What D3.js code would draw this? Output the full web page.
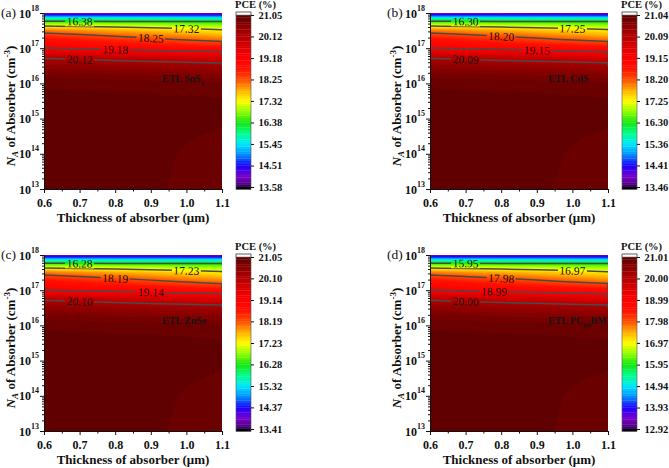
<!DOCTYPE html>
<html><head><meta charset="utf-8">
<script src="https://cdn.jsdelivr.net/npm/d3@7"></script>
<style>
body{margin:0;background:#fff;}
svg{display:block;}
text{font-family:"Liberation Serif","Times New Roman",serif;}
</style>
</head><body>
<svg id="chart" width="669" height="468"></svg>
<script>
// ---------------- DATA ----------------
const thickness = [0.6, 0.7, 0.8, 0.9, 1.0, 1.1];           // µm (columns)
const logNA = [13, 14, 14.5, 15, 15.5, 16, 16.25, 16.5, 16.75, 17, 17.25, 17.5, 17.625, 17.75, 17.8, 17.85, 17.9, 17.95, 18]; // log10(NA) rows

// PCE (%) grids: one row per logNA value, one column per thickness
const pceSnS2 = [
  21.05, 21.05, 21.03, 20.98, 20.90, 20.88,
  21.05, 21.05, 21.03, 20.99, 20.93, 20.90,
  21.04, 21.04, 21.03, 21.00, 20.955, 20.93,
  21.03, 21.03, 21.03, 21.01, 20.98, 20.96,
  21.00, 21.00, 20.99, 20.99, 20.98, 20.96,
  20.92, 20.91, 20.90, 20.89, 20.87, 20.85,
  20.80, 20.78, 20.75, 20.72, 20.69, 20.65,
  20.55, 20.51, 20.47, 20.43, 20.39, 20.35,
  20.05, 19.97, 19.89, 19.81, 19.73, 19.65,
  19.20, 19.13, 19.06, 19.00, 18.92, 18.85,
  18.80, 18.65, 18.50, 18.35, 18.20, 18.05,
  18.05, 17.93, 17.80, 17.68, 17.55, 17.42,
  17.34, 17.28, 17.21, 17.13, 17.04, 16.95,
  16.50, 16.48, 16.47, 16.45, 16.44, 16.42,
  16.10, 16.09, 16.08, 16.07, 16.06, 16.05,
  15.60, 15.59, 15.58, 15.57, 15.56, 15.55,
  15.00, 14.99, 14.98, 14.97, 14.96, 14.95,
  14.40, 14.38, 14.36, 14.34, 14.32, 14.30,
  13.70, 13.68, 13.65, 13.63, 13.60, 13.58
];
const pceCdS = [
  21.04, 21.04, 21.02, 20.97, 20.89, 20.87,
  21.04, 21.04, 21.02, 20.98, 20.92, 20.89,
  21.03, 21.03, 21.02, 20.99, 20.945, 20.92,
  21.02, 21.02, 21.02, 21.00, 20.97, 20.95,
  20.99, 20.99, 20.98, 20.98, 20.97, 20.95,
  20.91, 20.90, 20.89, 20.88, 20.86, 20.84,
  20.78, 20.76, 20.73, 20.70, 20.67, 20.63,
  20.53, 20.49, 20.45, 20.41, 20.37, 20.33,
  20.02, 19.94, 19.86, 19.78, 19.70, 19.62,
  19.16, 19.09, 19.02, 18.96, 18.88, 18.81,
  18.75, 18.60, 18.45, 18.30, 18.15, 18.00,
  17.99, 17.87, 17.74, 17.62, 17.49, 17.36,
  17.27, 17.21, 17.14, 17.06, 16.97, 16.88,
  16.42, 16.40, 16.39, 16.37, 16.36, 16.34,
  16.02, 16.01, 16.00, 15.99, 15.98, 15.97,
  15.51, 15.50, 15.49, 15.48, 15.47, 15.46,
  14.90, 14.89, 14.88, 14.87, 14.86, 14.85,
  14.29, 14.27, 14.25, 14.23, 14.21, 14.19,
  13.58, 13.56, 13.53, 13.51, 13.48, 13.46
];
const pceZnSe = [
  21.05, 21.05, 21.03, 20.98, 20.90, 20.88,
  21.05, 21.05, 21.03, 20.99, 20.93, 20.90,
  21.04, 21.04, 21.03, 21.00, 20.955, 20.93,
  21.03, 21.03, 21.03, 21.01, 20.98, 20.96,
  21.00, 21.00, 20.99, 20.99, 20.98, 20.96,
  20.92, 20.91, 20.90, 20.89, 20.87, 20.85,
  20.79, 20.77, 20.74, 20.71, 20.68, 20.64,
  20.54, 20.50, 20.46, 20.42, 20.37, 20.33,
  20.03, 19.95, 19.86, 19.78, 19.70, 19.62,
  19.16, 19.09, 19.02, 18.96, 18.88, 18.80,
  18.75, 18.60, 18.44, 18.29, 18.14, 17.98,
  17.98, 17.86, 17.73, 17.60, 17.47, 17.34,
  17.26, 17.20, 17.12, 17.04, 16.95, 16.86,
  16.40, 16.38, 16.37, 16.35, 16.34, 16.32,
  15.99, 15.98, 15.97, 15.96, 15.95, 15.94,
  15.48, 15.47, 15.46, 15.45, 15.44, 15.43,
  14.86, 14.85, 14.84, 14.83, 14.82, 14.81,
  14.24, 14.22, 14.20, 14.18, 14.16, 14.14,
  13.52, 13.50, 13.47, 13.45, 13.42, 13.41
];
const pcePCBM = [
  21.01, 21.01, 20.99, 20.94, 20.85, 20.83,
  21.01, 21.01, 20.99, 20.95, 20.88, 20.85,
  21.00, 21.00, 20.99, 20.96, 20.91, 20.88,
  20.99, 20.99, 20.99, 20.97, 20.94, 20.92,
  20.96, 20.96, 20.95, 20.95, 20.93, 20.92,
  20.87, 20.86, 20.85, 20.84, 20.82, 20.80,
  20.74, 20.72, 20.68, 20.65, 20.62, 20.58,
  20.47, 20.43, 20.38, 20.34, 20.30, 20.25,
  19.93, 19.84, 19.75, 19.67, 19.58, 19.49,
  19.01, 18.93, 18.85, 18.79, 18.70, 18.63,
  18.57, 18.41, 18.25, 18.09, 17.93, 17.76,
  17.76, 17.63, 17.49, 17.36, 17.22, 17.08,
  16.99, 16.93, 16.85, 16.77, 16.67, 16.57,
  16.08, 16.06, 16.05, 16.03, 16.02, 16.00,
  15.65, 15.64, 15.63, 15.62, 15.61, 15.60,
  15.11, 15.10, 15.09, 15.08, 15.06, 15.05,
  14.46, 14.45, 14.44, 14.43, 14.41, 14.40,
  13.81, 13.79, 13.77, 13.75, 13.72, 13.70,
  13.05, 13.03, 13.00, 12.98, 12.95, 12.92
];

// colour-bar tick labels (top to bottom)
const cbTicksSnS2 = ["21.05","20.12","19.18","18.25","17.32","16.38","15.45","14.51","13.58"];
const cbTicksCdS  = ["21.04","20.09","19.15","18.20","17.25","16.30","15.36","14.41","13.46"];
const cbTicksZnSe = ["21.05","20.10","19.14","18.19","17.23","16.28","15.32","14.37","13.41"];
const cbTicksPCBM = ["21.01","20.00","18.99","17.98","16.97","15.95","14.94","13.93","12.92"];

// labelled contour levels
const linesSnS2 = [16.38, 17.32, 18.25, 19.18, 20.12];
const linesCdS  = [16.30, 17.25, 18.20, 19.15, 20.09];
const linesZnSe = [16.28, 17.23, 18.19, 19.14, 20.10];
const linesPCBM = [15.95, 16.97, 17.98, 18.99, 20.00];

const xTicks = [0.6, 0.7, 0.8, 0.9, 1.0, 1.1];
const yExponents = [13, 14, 15, 16, 17, 18];

// ---------------- DRAW ----------------
const panels = [
  {letter:"(a)", etl:["ETL SnS","2",""],  data:pceSnS2, ticks:cbTicksSnS2, levels:linesSnS2, labelAt:[0.7,1.0,0.9,0.8,0.7], dx:0,   dy:0},
  {letter:"(b)", etl:["ETL CdS","",""],   data:pceCdS,  ticks:cbTicksCdS,  levels:linesCdS,  labelAt:[0.7,1.0,0.8,0.9,0.7], dx:386, dy:0},
  {letter:"(c)", etl:["ETL ZnSe","",""],  data:pceZnSe, ticks:cbTicksZnSe, levels:linesZnSe, labelAt:[0.7,1.0,0.8,0.9,0.7], dx:0,   dy:242},
  {letter:"(d)", etl:["ETL PC","60","BM"],data:pcePCBM, ticks:cbTicksPCBM, levels:linesPCBM, labelAt:[0.7,1.0,0.8,0.78,0.7], dx:386, dy:242}
];

const svg = d3.select("#chart");
const N = 72;
const palette = d3.scaleLinear()
  .domain([0, 0.06, 0.125, 0.19, 0.25, 0.31, 0.375, 0.44, 0.5, 0.56, 0.625, 0.69, 0.75, 0.81, 0.875, 0.94, 1])
  .range(["#3c0064","#7a00c8","#1e00ff","#0090ff","#00e6ff","#00ff90","#14e614","#90ff00","#ffff00","#ffb400","#ff5000","#ff1000","#ff0000","#e00000","#b40000","#8a0000","#5a0000"])
  .interpolate(d3.interpolateRgb);

const X0 = 44, X1 = 222, Y0 = 13, Y1 = 189;
const CBX = 236, CBW = 15, CBT = 15, CBB = 187;

panels.forEach((p, pi) => {
  const g = svg.append("g").attr("transform", `translate(${p.dx},${p.dy})`);
  const x = d3.scaleLinear().domain([0.6, 1.1]).range([X0, X1]);
  const y = d3.scaleLog().domain([1e13, 1e18]).range([Y1, Y0]);
  const nx = thickness.length, ny = logNA.length;
  const gx = d3.scaleLinear().domain(thickness.map((_, i) => i + 0.5)).range(thickness).clamp(true);
  const gy = d3.scaleLinear().domain(logNA.map((_, i) => i + 0.5)).range(logNA).clamp(true);
  const px = a => x(gx(a));
  const py = b => y(Math.pow(10, gy(b)));
  const proj = d3.geoTransform({point: function(a, b) { this.stream.point(px(a), py(b)); }});
  const path = d3.geoPath(proj);

  const tv = p.ticks.map(Number);
  const vmin = d3.min(tv), vmax = d3.max(tv);
  const step = (vmax - vmin) / N;
  const bandColor = i => palette((i + 0.5) / N);

  const clipId = "clip" + pi;
  g.append("clipPath").attr("id", clipId).append("rect")
    .attr("x", X0).attr("y", Y0).attr("width", X1 - X0).attr("height", Y1 - Y0);
  const fillG = g.append("g").attr("clip-path", `url(#${clipId})`);
  fillG.append("rect").attr("x", X0).attr("y", Y0).attr("width", X1 - X0).attr("height", Y1 - Y0)
    .attr("fill", bandColor(0));
  const thresholds = d3.range(1, N).map(i => vmin + i * step);
  const bands = d3.contours().size([nx, ny]).thresholds(thresholds)(p.data);
  fillG.selectAll("path.band").data(bands).join("path").attr("class", "band")
    .attr("d", path)
    .attr("fill", (d, i) => bandColor(i + 1))
    .attr("stroke", (d, i) => bandColor(i + 1)).attr("stroke-width", 0.4);

  // iso-lines
  const iso = d3.contours().size([nx, ny]).thresholds(p.levels)(p.data);
  const maskId = "mask" + pi;
  const mask = g.append("mask").attr("id", maskId).attr("maskUnits", "userSpaceOnUse")
    .attr("x", 0).attr("y", 0).attr("width", 669).attr("height", 468);
  mask.append("rect").attr("x", 0).attr("y", 0).attr("width", 669).attr("height", 468).attr("fill", "#fff");
  const lineG = g.append("g").attr("clip-path", `url(#${clipId})`).append("g").attr("mask", `url(#${maskId})`);
  const labG = g.append("g");
  iso.forEach((c, li) => {
    const lines = [];
    c.coordinates.forEach(poly => poly.forEach(ring => {
      let cur = [];
      for (let k = 0; k < ring.length - 1; k++) {
        const a = ring[k], b = ring[k + 1];
        const onB = (a[0] === 0 && b[0] === 0) || (a[0] === nx && b[0] === nx) ||
                    (a[1] === 0 && b[1] === 0) || (a[1] === ny && b[1] === ny);
        if (onB) { if (cur.length > 1) lines.push(cur); cur = []; }
        else { if (cur.length === 0) cur.push(a); cur.push(b); }
      }
      if (cur.length > 1) lines.push(cur);
    }));
    const pl = lines.map(l => l.map(q => [px(q[0]), py(q[1])]));
    lineG.selectAll(null).data(pl).join("path")
      .attr("d", d3.line())
      .attr("fill", "none").attr("stroke", "#4a4a4a").attr("stroke-width", 1.5);
    // label
    const LX = x(p.labelAt[li]);
    let ly = null, ang = 0;
    pl.forEach(l => {
      for (let k = 0; k < l.length - 1; k++) {
        const a = l[k], b = l[k + 1];
        if ((a[0] - LX) * (b[0] - LX) <= 0 && a[0] !== b[0] && ly === null) {
          const t = (LX - a[0]) / (b[0] - a[0]);
          ly = a[1] + t * (b[1] - a[1]);
          ang = Math.atan2(b[1] - a[1], b[0] - a[0]) * 180 / Math.PI;
          if (ang > 90) ang -= 180;
          if (ang < -90) ang += 180;
        }
      }
    });
    if (ly !== null) {
      const txt = labG.append("text")
        .attr("transform", `translate(${LX},${ly}) rotate(${ang})`)
        .attr("text-anchor", "middle").attr("dy", "0.35em")
        .attr("font-size", 11.5).attr("fill", "#111")
        .text(p.levels[li].toFixed(2));
      const w = txt.node().getComputedTextLength();
      mask.append("rect")
        .attr("transform", `translate(${LX},${ly}) rotate(${ang})`)
        .attr("x", -w / 2 - 1.5).attr("y", -5).attr("width", w + 3).attr("height", 10)
        .attr("fill", "#000");
    }
  });

  // axes
  const xAx = g.append("g").attr("transform", `translate(0,${Y1})`)
    .call(d3.axisBottom(x).tickValues(xTicks).tickSize(4).tickSizeOuter(0).tickFormat(d3.format(".1f")));
  xAx.selectAll("text").attr("font-size", 12).attr("font-weight", "bold").attr("fill", "#111")
    .attr("font-family", "Liberation Serif").attr("dy", "0.9em");
  g.append("g").attr("transform", `translate(0,${Y1})`)
    .call(d3.axisBottom(x).tickValues(d3.range(5).map(i => xTicks[i] + 0.05)).tickSize(2.5).tickFormat(""))
    .select(".domain").remove();

  g.append("g").attr("transform", `translate(${X0},0)`)
    .call(d3.axisLeft(y).tickValues(yExponents.map(e => Math.pow(10, e))).tickSize(4).tickSizeOuter(0).tickFormat(""));
  const minor = [];
  yExponents.slice(0, -1).forEach(e => { for (let m = 2; m <= 9; m++) minor.push(m * Math.pow(10, e)); });
  g.append("g").attr("transform", `translate(${X0},0)`)
    .call(d3.axisLeft(y).tickValues(minor).tickSize(2).tickFormat(""))
    .select(".domain").remove();
  g.selectAll(".domain").attr("stroke", "#111");
  g.selectAll(".tick line").attr("stroke", "#111");

  yExponents.forEach(e => {
    const yy = y(Math.pow(10, e));
    const t = g.append("text").attr("x", X0 - 5).attr("y", yy + 4.5)
      .attr("text-anchor", "end").attr("font-weight", "bold").attr("font-size", 12).attr("fill", "#111");
    t.append("tspan").text("10");
    t.append("tspan").attr("font-size", 8).attr("dy", -7).text(e);
  });

  // axis titles
  g.append("text").attr("x", (X0 + X1) / 2).attr("y", 222).attr("text-anchor", "middle")
    .attr("font-weight", "bold").attr("font-size", 13).attr("fill", "#111")
    .text("Thickness of absorber (\u03bcm)");
  const yt = g.append("text").attr("transform", "translate(15,106) rotate(-90)")
    .attr("text-anchor", "middle").attr("font-weight", "bold").attr("font-size", 13).attr("fill", "#111");
  yt.append("tspan").attr("font-style", "italic").text("N");
  yt.append("tspan").attr("font-style", "italic").attr("font-size", 9).attr("dy", 3).text("A");
  yt.append("tspan").attr("dy", -3).text(" of Absorber (cm");
  yt.append("tspan").attr("font-size", 9).attr("dy", -5).text("-3");
  yt.append("tspan").attr("dy", 5).text(")");

  // panel letter
  g.append("text").attr("x", 1).attr("y", 17).attr("font-size", 13.5).attr("fill", "#111").text(p.letter);

  // ETL label
  const et = g.append("text").attr("x", 162).attr("y", 82).attr("font-size", 10)
    .attr("font-weight", "bold").attr("fill", "#151515");
  et.append("tspan").text(p.etl[0]);
  if (p.etl[1]) et.append("tspan").attr("font-size", 7).attr("dy", 2.5).text(p.etl[1]);
  if (p.etl[2]) et.append("tspan").attr("dy", -2.5).text(p.etl[2]);

  // colour bar
  const cb = d3.scaleLinear().domain([vmin, vmax]).range([CBB, CBT]);
  const cbG = g.append("g");
  cbG.selectAll("rect.lev").data(d3.range(N)).join("rect").attr("class", "lev")
    .attr("x", CBX).attr("width", CBW)
    .attr("y", i => cb(vmin + (i + 1) * step)).attr("height", i => cb(vmin + i * step) - cb(vmin + (i + 1) * step) + 0.3)
    .attr("fill", i => bandColor(i));
  cbG.append("rect").attr("x", CBX).attr("y", CBT - 3).attr("width", CBW).attr("height", 3)
    .attr("fill", "#fff").attr("stroke", "#777").attr("stroke-width", 0.6);
  cbG.append("rect").attr("x", CBX).attr("y", CBB).attr("width", CBW).attr("height", 2.5).attr("fill", "#000");
  cbG.append("rect").attr("x", CBX).attr("y", CBT - 3).attr("width", CBW).attr("height", CBB + 2.5 - CBT + 3)
    .attr("fill", "none").attr("stroke", "#555").attr("stroke-width", 0.6);
  const cbAx = cbG.append("g").attr("transform", `translate(${CBX + CBW},0)`)
    .call(d3.axisRight(cb).tickValues(tv).tickSize(3).tickFormat((d, i) => p.ticks[i]));
  cbAx.select(".domain").remove();
  cbAx.selectAll("line").attr("stroke", "#111");
  cbAx.selectAll("text").attr("font-size", 10.5).attr("font-weight", "bold").attr("fill", "#111")
    .attr("font-family", "Liberation Serif").attr("x", 7.5);
  cbG.append("text").attr("x", CBX - 1).attr("y", 7.5).attr("font-size", 10.5).attr("font-weight", "bold")
    .attr("fill", "#111").text("PCE (%)");
});
</script>
</body></html>
